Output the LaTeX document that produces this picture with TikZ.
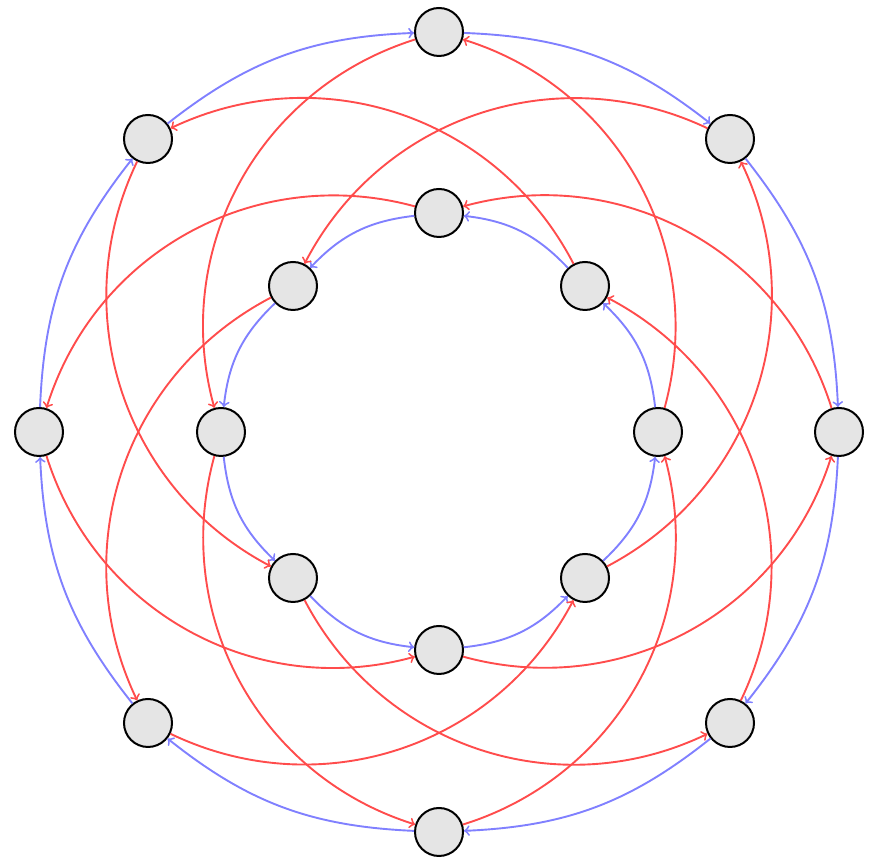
\documentclass[tikz,border=0pt]{standalone}
\begin{document}
\begin{tikzpicture}[x=0.5pt,y=0.5pt,
  vtx/.style={circle,draw=black,fill=gray!20,line width=1pt,minimum size=24pt,inner sep=0pt},
  bl/.style={draw=blue!50,line width=0.95pt,->},
  rd/.style={draw=red!70,line width=0.95pt,->}]
\useasboundingbox (0,0) rectangle (872,860);
% outer
\node[vtx] (O0) at (439,828) {};
\node[vtx] (O1) at (730,721) {};
\node[vtx] (O2) at (839,428) {};
\node[vtx] (O3) at (730,137) {};
\node[vtx] (O4) at (439,28) {};
\node[vtx] (O5) at (148,137) {};
\node[vtx] (O6) at (39,428) {};
\node[vtx] (O7) at (148,721) {};
% inner
\node[vtx] (I0) at (439,647) {};
\node[vtx] (I1) at (585,574) {};
\node[vtx] (I2) at (658,428) {};
\node[vtx] (I3) at (585,282) {};
\node[vtx] (I4) at (439,210) {};
\node[vtx] (I5) at (293,282) {};
\node[vtx] (I6) at (221,428) {};
\node[vtx] (I7) at (293,574) {};
% outer blue cycle
\foreach \a/\b in {0/1,1/2,2/3,3/4,4/5,5/6,6/7,7/0}
  \draw[bl] (O\a) to[bend left=18] (O\b);
% inner blue cycle
\foreach \a/\b in {0/7,7/6,6/5,5/4,4/3,3/2,2/1,1/0}
  \draw[bl] (I\a) to[bend right=20] (I\b);
% red edges
\foreach \a/\b in {2/0,1/7,0/6,7/5,6/4,5/3,4/2,3/1}
  \draw[rd] (I\a) to[bend right=44] (O\b);
\foreach \a/\b in {0/6,7/5,6/4,5/3,4/2,3/1,2/0,1/7}
  \draw[rd] (O\a) to[bend right=44] (I\b);
\end{tikzpicture}
\end{document}
